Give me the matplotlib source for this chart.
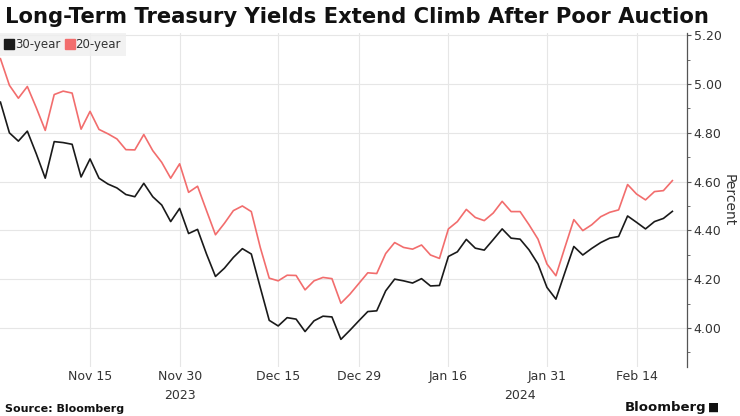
import numpy as np
import pandas as pd
import matplotlib
matplotlib.use("Agg")
from matplotlib import pyplot as plt
from matplotlib.lines import Line2D
from matplotlib.ticker import MultipleLocator, FormatStrFormatter

# trading days, bond market holidays left out
holidays = ["2023-11-23", "2023-12-25", "2024-01-01", "2024-01-15", "2024-02-19"]
dates = pd.bdate_range("2023-11-01", "2024-02-21", freq="C", holidays=holidays)

yield_30y = [4.926, 4.800, 4.766, 4.807, 4.714, 4.614, 4.764, 4.760, 4.753, 4.619,
             4.693, 4.614, 4.590, 4.574, 4.547, 4.538, 4.593, 4.538, 4.504, 4.436,
             4.490, 4.387, 4.404, 4.303, 4.211, 4.245, 4.289, 4.325, 4.303, 4.166,
             4.031, 4.008, 4.042, 4.036, 3.985, 4.029, 4.048, 4.045, 3.953, 3.990,
             4.029, 4.067, 4.070, 4.152, 4.200, 4.193, 4.184, 4.202, 4.172, 4.174,
             4.293, 4.312, 4.363, 4.327, 4.319, 4.362, 4.406, 4.368, 4.364, 4.320,
             4.262, 4.166, 4.118, 4.227, 4.334, 4.299, 4.326, 4.350, 4.368, 4.375,
             4.459, 4.433, 4.406, 4.436, 4.449, 4.478]
yield_20y = [5.104, 4.995, 4.942, 4.990, 4.903, 4.810, 4.957, 4.971, 4.963, 4.815,
             4.888, 4.814, 4.796, 4.775, 4.731, 4.730, 4.793, 4.727, 4.679, 4.614,
             4.673, 4.556, 4.581, 4.481, 4.382, 4.429, 4.481, 4.500, 4.477, 4.330,
             4.204, 4.193, 4.216, 4.215, 4.156, 4.193, 4.207, 4.202, 4.101, 4.138,
             4.182, 4.226, 4.223, 4.305, 4.350, 4.330, 4.323, 4.340, 4.299, 4.285,
             4.406, 4.436, 4.486, 4.453, 4.440, 4.471, 4.519, 4.477, 4.477, 4.423,
             4.364, 4.262, 4.214, 4.330, 4.444, 4.399, 4.423, 4.456, 4.474, 4.484,
             4.588, 4.549, 4.525, 4.559, 4.563, 4.604]

tick_dates = ["2023-11-15", "2023-11-30", "2023-12-15", "2023-12-29",
              "2024-01-16", "2024-01-31", "2024-02-14"]
tick_labels = ["Nov 15", "Nov 30", "Dec 15", "Dec 29", "Jan 16", "Jan 31", "Feb 14"]
years = [("2023-11-30", "2023"), ("2024-01-26", "2024")]

black = "#1a1a1a"
red = "#f26d6d"
text_col = "#333333"

x = np.arange(len(dates))
pos = {d.strftime("%Y-%m-%d"): i for i, d in enumerate(dates)}

fig = plt.figure(figsize=(7.4, 4.16), dpi=100)
ax = fig.add_axes([0.0, 0.118, 0.928, 0.803])

ax.plot(x, yield_30y, color=black, lw=1.2, zorder=3)
ax.plot(x, yield_20y, color=red, lw=1.2, zorder=3)

ax.set_xlim(-0.05, 76.6)
ax.set_ylim(3.84, 5.21)

# y axis on the right
ax.yaxis.tick_right()
ax.yaxis.set_label_position("right")
ax.yaxis.set_major_locator(MultipleLocator(0.2))
ax.yaxis.set_minor_locator(MultipleLocator(0.1))
ax.yaxis.set_major_formatter(FormatStrFormatter("%.2f"))
ax.set_ylabel("Percent", rotation=270, labelpad=10, fontsize=10, color=text_col)
ax.tick_params(axis="y", which="major", length=3, width=0.8, color="#555555",
               labelsize=9, labelcolor=text_col, pad=2)
ax.tick_params(axis="y", which="minor", length=2, width=0.6, color="#555555")

ax.set_xticks([pos[d] for d in tick_dates])
ax.set_xticklabels(tick_labels)
ax.tick_params(axis="x", length=0, labelsize=9, labelcolor=text_col, pad=2)
for d, yr in years:
    ax.text(pos[d], -0.065, yr, transform=ax.get_xaxis_transform(),
            ha="center", va="top", fontsize=9, color=text_col)

for side in ["top", "left", "bottom"]:
    ax.spines[side].set_visible(False)
ax.spines["right"].set_color("#555555")
ax.spines["right"].set_linewidth(0.9)

ax.grid(True, which="major", color="#e6e6e6", lw=0.8, zorder=0)
ax.set_axisbelow(True)

handles = [Line2D([], [], ls="none", marker="s", ms=7, color=black),
           Line2D([], [], ls="none", marker="s", ms=7, color=red)]
leg = ax.legend(handles, ["30-year", "20-year"], loc="upper left",
                bbox_to_anchor=(0.0, 1.0), ncol=2, frameon=True, fontsize=8.5,
                handlelength=0.6, handletextpad=0.2, columnspacing=0.5,
                borderpad=0.45, borderaxespad=0.0, fancybox=False)
leg.get_frame().set_facecolor("#efefef")
leg.get_frame().set_edgecolor("none")
for t in leg.get_texts():
    t.set_color(text_col)

fig.text(0.007, 0.958, "Long-Term Treasury Yields Extend Climb After Poor Auction",
         fontsize=15.2, fontweight="bold", color="#111111", va="center", ha="left")
fig.text(0.007, 0.018, "Source: Bloomberg", fontsize=8, fontweight="bold",
         color="#111111", va="center", ha="left")
fig.text(0.955, 0.02, "Bloomberg", fontsize=9.5, fontweight="bold",
         color="#111111", va="center", ha="right")
fig.text(0.972, 0.02, "\u25a0", fontsize=8.5, color="#111111", va="center", ha="right")

fig.savefig("out.png", dpi=100)
